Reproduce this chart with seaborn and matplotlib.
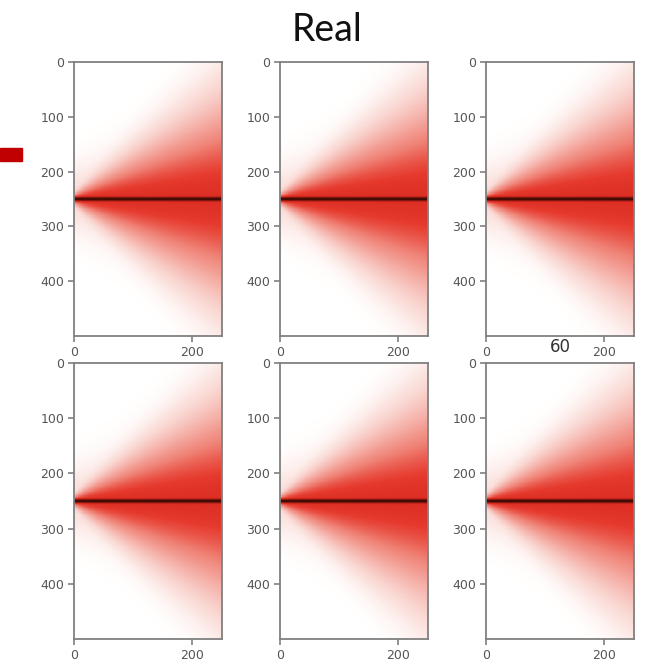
import numpy as np
import pandas as pd
import matplotlib
matplotlib.use("Agg")
import matplotlib.pyplot as plt
from matplotlib.colors import LinearSegmentedColormap
from matplotlib.patches import Rectangle
import seaborn as sns

# Grid of the simulated intensity field (rows x columns)
n_rows = 500
n_cols = 250
beam_row = 250

# One entry per panel, left-to-right, top-to-bottom
panel_titles = ["", "", "", "", "", "60"]
main_start = [8, 8, 8, 8, 8, 8]                # main lobe half width at column 0
main_growth = [0.62, 0.62, 0.62, 0.62, 0.62, 0.62]  # main lobe widening per column
halo_start = [60, 60, 60, 60, 60, 60]          # diffuse halo half width at column 0
halo_growth = [0.35, 0.35, 0.35, 0.35, 0.35, 0.35]
halo_share = [0.15, 0.15, 0.15, 0.15, 0.15, 0.15]
core_width = [4.0, 4.0, 4.0, 4.0, 4.0, 4.0]    # half width of the bright axis (rows)
core_weight = [0.3, 0.3, 0.3, 0.3, 0.3, 0.3]

x_ticks = [0, 200]
y_ticks = [0, 100, 200, 300, 400]

cmap = LinearSegmentedColormap.from_list(
    "beam",
    [(0.0, "#ffffff"), (0.08, "#fbe3df"), (0.25, "#f5b4ac"),
     (0.45, "#ef8074"), (0.64, "#e63a2e"), (0.74, "#d92a20"),
     (0.88, "#901a10"), (1.0, "#420a05")],
)


def field(k):
    rows = np.arange(n_rows)[:, None] + 0.5
    cols = np.arange(n_cols)[None, :] + 0.5
    d = np.abs(rows - beam_row)
    s1 = main_start[k] + main_growth[k] * cols
    s2 = halo_start[k] + halo_growth[k] * cols
    cone = ((1 - halo_share[k]) * np.exp(-(d / s1) ** 2)
            + halo_share[k] * np.exp(-(d / s2) ** 2))
    core = np.exp(-(d / core_width[k]) ** 2)
    v = (1 - core_weight[k]) * cone + core_weight[k] * core
    return pd.DataFrame(v)


sns.set_style("white")
fig = plt.figure(figsize=(6.46, 6.71), dpi=100)

W, H = 646, 671
col_left = [74, 280, 486]
row_top = [62, 363]
row_bottom = [336, 639]
panel_w = 148

for k in range(6):
    r, c = divmod(k, 3)
    ax = fig.add_axes([col_left[c] / W, 1 - row_bottom[r] / H,
                       panel_w / W, (row_bottom[r] - row_top[r]) / H])
    sns.heatmap(field(k), ax=ax, cmap=cmap, vmin=0, vmax=1, cbar=False,
                xticklabels=False, yticklabels=False, rasterized=True)
    ax.set_xlim(0, n_cols)
    ax.set_ylim(n_rows, 0)
    ax.set_xticks(x_ticks)
    ax.set_xticklabels([str(t) for t in x_ticks])
    ax.set_yticks(y_ticks)
    ax.set_yticklabels([str(t) for t in y_ticks], rotation=0)
    for s in ax.spines.values():
        s.set_visible(True)
        s.set_color("#808080")
        s.set_linewidth(1.3)
    ax.tick_params(left=True, bottom=True, length=4, width=1.2,
                   color="#808080", labelcolor="#555555", labelsize=9, pad=3)
    if panel_titles[k]:
        ax.set_title(panel_titles[k], fontsize=12, color="#333333", pad=8)

fig.text(327 / W, 1 - 30 / H, "Real", ha="center", va="center",
         fontsize=27, family=["Lato", "DejaVu Sans"], color="#111111")
fig.patches.append(Rectangle((0, 1 - 161 / H), 22 / W, 13 / H,
                             transform=fig.transFigure, color="#c00000"))

fig.savefig("out.png", dpi=100)
